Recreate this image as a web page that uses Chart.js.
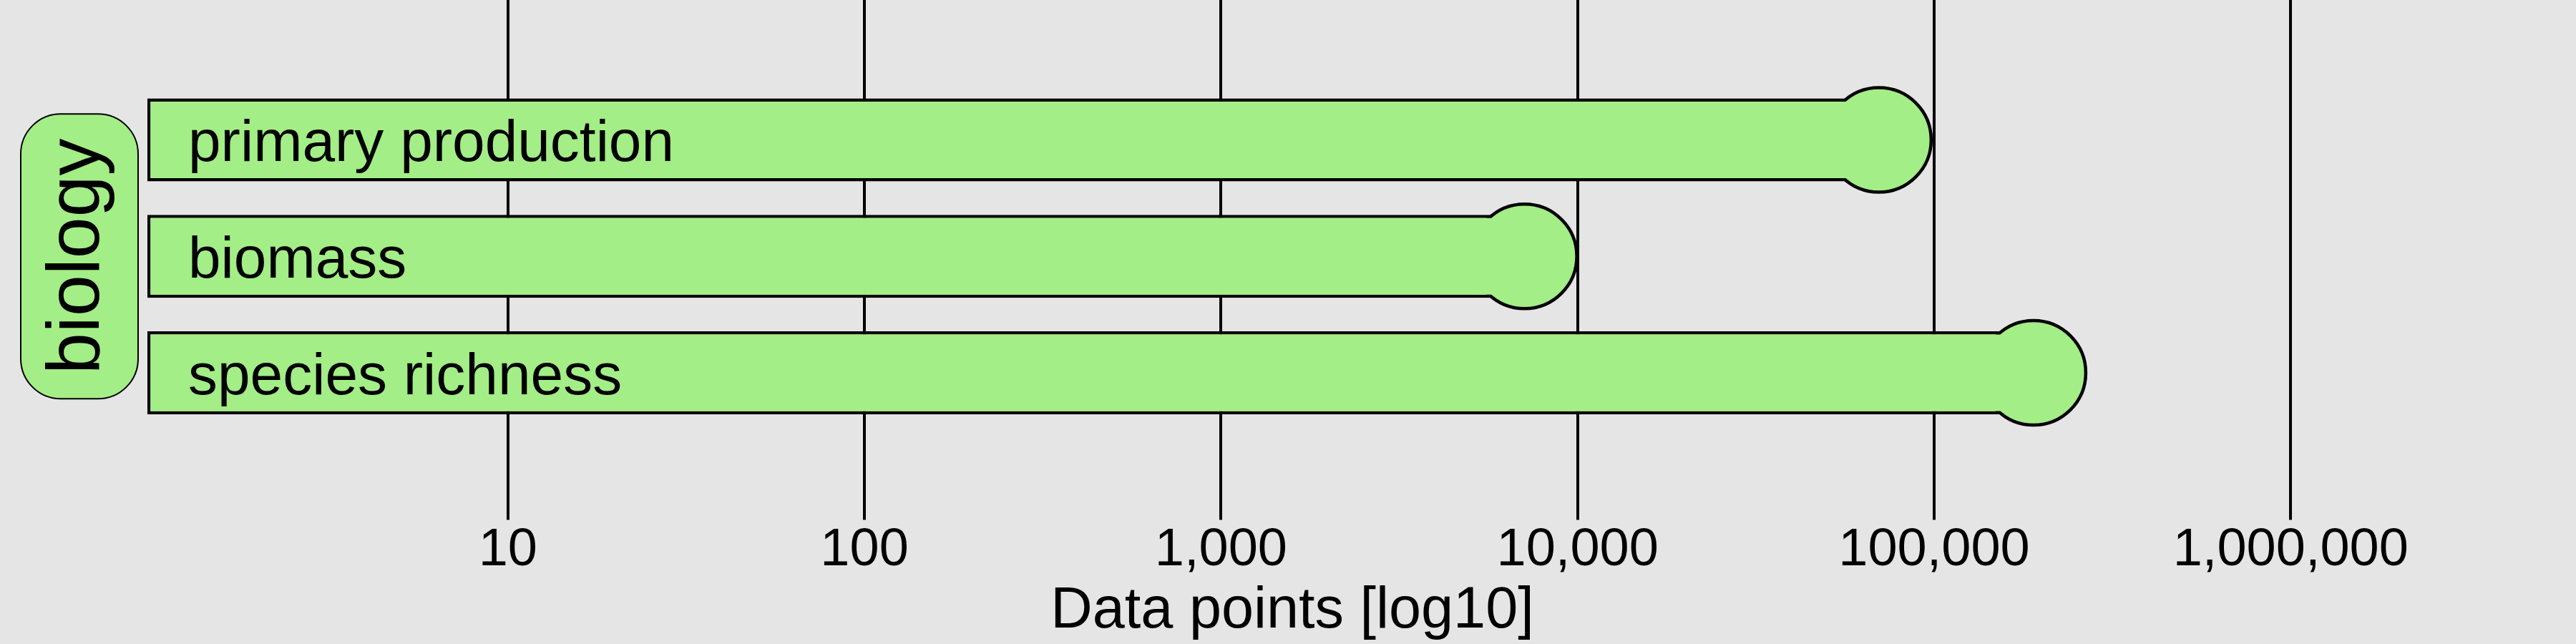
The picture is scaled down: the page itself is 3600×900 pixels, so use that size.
<!DOCTYPE html>
<html>
<head>
<meta charset="utf-8">
<title>Data points</title>
<script src="https://cdn.jsdelivr.net/npm/chart.js@4.4.0/dist/chart.umd.min.js"></script>
<style>
  html, body { margin: 0; padding: 0; background: #e5e5e5; }
  #wrap { width: 3600px; height: 900px; }
</style>
</head>
<body>
<div id="wrap"><canvas id="pointsChart" width="3600" height="900"></canvas></div>
<script>
const groupName = 'biology';
const categories = ['primary production', 'biomass', 'species richness'];
const dataPoints = [70000, 7100, 190000];
const tickValues = [10, 100, 1000, 10000, 100000, 1000000];
const axisMin = 0.975;
const axisMax = 2575000;

const GREEN = '#a3ee86';
const BG = '#e5e5e5';
const FONT = '"Liberation Sans", Arial, Helvetica, sans-serif';
const EDGE = 4.5;

document.addEventListener("DOMContentLoaded", function () {

    // background, the "biology" strip and the labels inside the bars
    const decorPlugin = {
        id: 'decor',
        beforeDraw(chart) {
            const ctx = chart.ctx;
            ctx.save();
            ctx.fillStyle = BG;
            ctx.fillRect(0, 0, chart.width, chart.height);
            ctx.restore();
        },
        afterDatasetsDraw(chart) {
            const ctx = chart.ctx;
            const area = chart.chartArea;
            const bars = chart.getDatasetMeta(0).data;

            ctx.save();
            ctx.fillStyle = '#000';
            ctx.font = '82px ' + FONT;
            ctx.textBaseline = 'alphabetic';
            bars.forEach((bar, i) => {
                ctx.fillText(categories[i], area.left + 57, bar.y + 30);
            });

            const midY = (area.top + area.bottom) / 2;
            const h = 398, w = 164;
            ctx.beginPath();
            ctx.roundRect(29, midY - h / 2, w, h, 56);
            ctx.fillStyle = GREEN;
            ctx.fill();
            ctx.lineWidth = 2;
            ctx.strokeStyle = '#000';
            ctx.stroke();

            ctx.translate(138, midY);
            ctx.rotate(-Math.PI / 2);
            ctx.fillStyle = '#000';
            ctx.font = '104px ' + FONT;
            ctx.textAlign = 'center';
            ctx.fillText(groupName, 0, 0);
            ctx.restore();
        }
    };

    function setTicks(axis) {
        axis.ticks = tickValues.map(v => ({ value: v }));
    }

    const ctx = document.getElementById("pointsChart");

    new Chart(ctx, {
        type: 'bar',
        data: {
            labels: categories,
            datasets: [
                {   // outlined bar, bottom layer
                    data: dataPoints,
                    backgroundColor: GREEN,
                    borderColor: '#000',
                    borderWidth: EDGE,
                    borderSkipped: false,
                    inflateAmount: 0,
                    grouped: false,
                    barPercentage: 0.712,
                    categoryPercentage: 1,
                    order: 3
                },
                {   // end circles
                    type: 'line',
                    indexAxis: 'y',
                    data: dataPoints,
                    showLine: false,
                    pointStyle: 'circle',
                    pointRadius: 73,
                    pointHoverRadius: 73,
                    pointBackgroundColor: GREEN,
                    pointBorderColor: '#000',
                    pointBorderWidth: EDGE,
                    order: 2
                },
                {   // fill-only bar on top, hides the circle outline inside the bar
                    data: dataPoints,
                    backgroundColor: GREEN,
                    borderWidth: 0,
                    inflateAmount: -EDGE,
                    grouped: false,
                    barPercentage: 0.712,
                    categoryPercentage: 1,
                    order: 1
                }
            ]
        },
        options: {
            indexAxis: 'y',
            responsive: false,
            animation: false,
            devicePixelRatio: 1,
            layout: { padding: { left: 206, right: 194, top: 0, bottom: 5 } },
            plugins: {
                legend: { display: false },
                tooltip: { enabled: false }
            },
            scales: {
                x: {
                    type: 'logarithmic',
                    position: 'bottom',
                    min: axisMin,
                    max: axisMax,
                    afterBuildTicks: setTicks,
                    border: { display: false },
                    grid: { color: '#000', lineWidth: 4, tickLength: 124 },
                    ticks: {
                        color: '#000',
                        padding: 6,
                        maxRotation: 0,
                        font: { family: FONT, size: 74, lineHeight: 1 },
                        callback: v => Number(v).toLocaleString('en-US')
                    },
                    title: {
                        display: true,
                        text: 'Data points [log10]',
                        color: '#000',
                        padding: { top: 1.5, bottom: 0 },
                        font: { family: FONT, size: 81, lineHeight: 1 }
                    }
                },
                xTop: {
                    type: 'logarithmic',
                    position: 'top',
                    min: axisMin,
                    max: axisMax,
                    afterBuildTicks: setTicks,
                    border: { display: false },
                    grid: { color: '#000', lineWidth: 4, tickLength: 114, drawOnChartArea: false },
                    ticks: { display: false }
                },
                y: {
                    type: 'category',
                    offset: true,
                    display: false
                }
            }
        },
        plugins: [decorPlugin]
    });

});
</script>
</body>
</html>
